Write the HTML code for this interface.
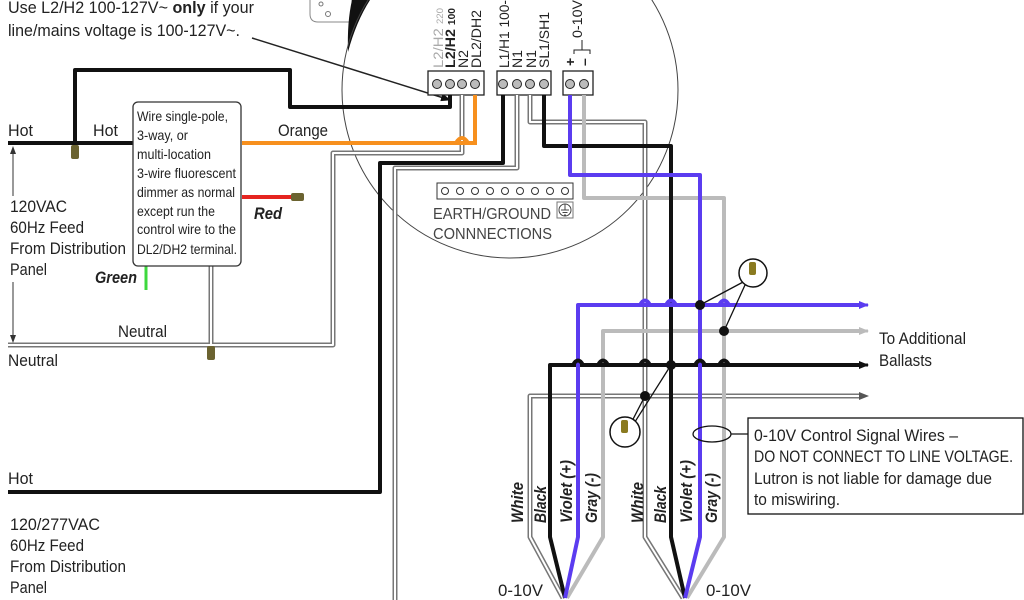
<!DOCTYPE html>
<html><head><meta charset="utf-8"><style>
html,body{margin:0;padding:0;background:#fff;width:1024px;height:600px;overflow:hidden}
svg{display:block}
text{font-family:"Liberation Sans Narrow","Liberation Sans",sans-serif;fill:#222}
.t{font-size:17px}
.s{font-size:14px}
.bi{font-style:italic;font-weight:bold}
</style></head><body>
<svg width="1024" height="600" viewBox="0 0 1024 600" xmlns="http://www.w3.org/2000/svg">
<defs>
<marker id="ah" markerUnits="userSpaceOnUse" markerWidth="10" markerHeight="8" refX="9" refY="4" orient="auto"><path d="M0,0 L10,4 L0,8 z" fill="#555"/></marker>
<marker id="ahv" markerUnits="userSpaceOnUse" markerWidth="10" markerHeight="8" refX="9" refY="4" orient="auto"><path d="M0,0 L10,4 L0,8 z" fill="#5b3cf0"/></marker>
<marker id="ahk" markerUnits="userSpaceOnUse" markerWidth="10" markerHeight="8" refX="9" refY="4" orient="auto"><path d="M0,0 L10,4 L0,8 z" fill="#111"/></marker>
<marker id="ahg" markerUnits="userSpaceOnUse" markerWidth="10" markerHeight="8" refX="9" refY="4" orient="auto"><path d="M0,0 L10,4 L0,8 z" fill="#bbb"/></marker>
</defs>

<text x="8" y="13" class="t" textLength="246" lengthAdjust="spacingAndGlyphs">Use L2/H2 100-127V~ <tspan font-weight="bold">only</tspan> if your</text>
<text x="8" y="36" class="t" textLength="232" lengthAdjust="spacingAndGlyphs">line/mains voltage is 100-127V~.</text>
<line x1="252" y1="38" x2="450" y2="100" stroke="#222" stroke-width="1.5" marker-end="url(#ahk)"/>

<path d="M310,0 L310,14 Q310,22 318,22 L352,22 L352,0" fill="none" stroke="#888" stroke-width="1"/>
<circle cx="321" cy="4" r="2" fill="none" stroke="#777"/>
<circle cx="328" cy="14" r="2.5" fill="none" stroke="#777"/>
<path d="M352,0 L370,0 Q356,22 348,52 Q347,22 352,0 z" fill="#111"/>

<circle cx="510" cy="90" r="168" fill="none" stroke="#444" stroke-width="1"/>

<g font-size="14">
<text transform="translate(443,68) rotate(-90)" style="fill:#aaa" textLength="60" lengthAdjust="spacingAndGlyphs">L2/H2 <tspan font-size="9">220</tspan></text>
<text transform="translate(455,68) rotate(-90)" font-weight="bold" textLength="60" lengthAdjust="spacingAndGlyphs">L2/H2 <tspan font-size="10">100</tspan></text>
<text transform="translate(468,68) rotate(-90)" textLength="18" lengthAdjust="spacingAndGlyphs">N2</text>
<text transform="translate(481,68) rotate(-90)" textLength="58" lengthAdjust="spacingAndGlyphs">DL2/DH2</text>
<text transform="translate(509,68) rotate(-90)" textLength="68" lengthAdjust="spacingAndGlyphs">L1/H1 100-</text>
<text transform="translate(522,68) rotate(-90)" textLength="18" lengthAdjust="spacingAndGlyphs">N1</text>
<text transform="translate(536,68) rotate(-90)" textLength="18" lengthAdjust="spacingAndGlyphs">N1</text>
<text transform="translate(549,68) rotate(-90)" textLength="56" lengthAdjust="spacingAndGlyphs">SL1/SH1</text>
<text transform="translate(575,66) rotate(-90)" font-weight="bold">+</text>
<text transform="translate(589,66) rotate(-90)" font-weight="bold">–</text>
<text transform="translate(582,38) rotate(-90)" textLength="38" lengthAdjust="spacingAndGlyphs">0-10V</text>
</g>
<path d="M574,54 L574,50 L590,50 L590,54" fill="none" stroke="#222"/>
<line x1="582" y1="50" x2="582" y2="40" stroke="#222"/>

<g stroke="#222" stroke-width="1.3" fill="#fff">
<rect x="428" y="71" width="56" height="24"/>
<rect x="497" y="71" width="54" height="24"/>
<rect x="563" y="71" width="30" height="24"/>
</g>
<g fill="#bbb" stroke="#222" stroke-width="1">
<circle cx="437" cy="84" r="4.5"/><circle cx="450" cy="84" r="4.5"/><circle cx="462" cy="84" r="4.5"/><circle cx="475" cy="84" r="4.5"/>
<circle cx="503" cy="84" r="4.5"/><circle cx="517" cy="84" r="4.5"/><circle cx="530" cy="84" r="4.5"/><circle cx="544" cy="84" r="4.5"/>
<circle cx="570" cy="84" r="4.5"/><circle cx="584" cy="84" r="4.5"/>
</g>

<rect x="437" y="183" width="136" height="16" fill="#fff" stroke="#333"/>
<g fill="none" stroke="#333"><circle cx="445" cy="191" r="3.5"/><circle cx="460" cy="191" r="3.5"/><circle cx="475" cy="191" r="3.5"/><circle cx="490" cy="191" r="3.5"/><circle cx="505" cy="191" r="3.5"/><circle cx="520" cy="191" r="3.5"/><circle cx="535" cy="191" r="3.5"/><circle cx="550" cy="191" r="3.5"/><circle cx="565" cy="191" r="3.5"/></g>
<text x="433" y="219" font-size="16" style="fill:#444" textLength="118" lengthAdjust="spacingAndGlyphs">EARTH/GROUND</text>
<text x="433" y="239" font-size="16" style="fill:#444" textLength="119" lengthAdjust="spacingAndGlyphs">CONNNECTIONS</text>
<rect x="557" y="202" width="16" height="16" fill="#fff" stroke="#777"/>
<circle cx="565" cy="210" r="6" fill="none" stroke="#444"/>
<path d="M565,204 V210 M561,210 H569 M562.5,212.5 H567.5 M564,215 H566" stroke="#444"/>

<g fill="none" stroke-linejoin="round">
<g stroke="#777" stroke-width="5">
<path d="M8,345 H333 V153 H462 V95"/>
<path d="M517,95 V168 H395 V600"/>
<path d="M530,95 V122 H645 V396"/>
<path d="M211,266 V345"/>
<path d="M862,396 H530 V537 L563,598"/>
<path d="M645,396 V537 L683,598"/>
</g>
<g stroke="#fff" stroke-width="2">
<path d="M8,345 H333 V153 H462 V95"/>
<path d="M517,95 V168 H395 V600"/>
<path d="M530,95 V122 H645 V396"/>
<path d="M211,266 V345"/>
<path d="M862,396 H530 V537 L563,598"/>
<path d="M645,396 V537 L683,598"/>
</g>
</g>
<line x1="860" y1="396" x2="868" y2="396" stroke="#777" stroke-width="1" marker-end="url(#ah)"/>

<g fill="none" stroke="#bbb" stroke-width="4" stroke-linejoin="round">
<path d="M584,95 V198 H724 V537 L687,598"/>
<path d="M860,331 H603 V537 L567,598"/>
</g>
<line x1="855" y1="331" x2="868" y2="331" stroke="#bbb" stroke-width="3" marker-end="url(#ahg)"/>

<path d="M242,143 H475 V95" fill="none" stroke="#f7901e" stroke-width="4"/>
<line x1="242" y1="197" x2="292" y2="197" stroke="#e52420" stroke-width="4"/>
<rect x="291" y="193" width="13" height="8" rx="2" fill="#6b6330"/>
<line x1="146" y1="266" x2="146" y2="290" stroke="#3ed83e" stroke-width="3"/>

<g fill="none" stroke="#111" stroke-width="4" stroke-linejoin="round">
<path d="M8,143 H133"/>
<path d="M75,146 V70 H290 V107 H450 V95"/>
<path d="M503,95 V163 H380 V492 H8"/>
<path d="M544,95 V146 H671 V537 L685,598"/>
<path d="M860,365 H550 V537 L565,598"/>
</g>
<line x1="855" y1="365" x2="868" y2="365" stroke="#111" stroke-width="3" marker-end="url(#ahk)"/>

<g fill="none" stroke="#5b3cf0" stroke-width="4" stroke-linejoin="round">
<path d="M570,95 V175 H700 V537 L685,598"/>
<path d="M860,305 H578 V537 L565,598"/>
</g>
<line x1="855" y1="305" x2="868" y2="305" stroke="#5b3cf0" stroke-width="3" marker-end="url(#ahv)"/>

<g fill="none" stroke-width="4">
<path d="M640,305 q5,-9 10,0 M666,305 q5,-9 10,0 M719,305 q5,-9 10,0" stroke="#5b3cf0"/>
<path d="M573,365 q5,-9 10,0 M598,365 q5,-9 10,0 M640,365 q5,-9 10,0 M695,365 q5,-9 10,0 M719,365 q5,-9 10,0" stroke="#111"/>
<path d="M456,143 q6,-10 12,0" stroke="#f7901e"/>
</g>

<rect x="71" y="145" width="8" height="14" rx="2" fill="#6b6330"/>
<rect x="207" y="346" width="8" height="14" rx="2" fill="#6b6330"/>

<g fill="#111">
<circle cx="700" cy="305" r="5"/><circle cx="724" cy="331" r="5"/>
<circle cx="671" cy="365" r="5"/><circle cx="645" cy="396" r="5"/>
</g>
<g stroke="#111" stroke-width="1.3">
<line x1="700" y1="305" x2="745" y2="281"/><line x1="724" y1="331" x2="745" y2="285"/>
<line x1="671" y1="365" x2="633" y2="425"/><line x1="645" y1="396" x2="630" y2="425"/>
</g>
<circle cx="753" cy="273" r="14" fill="#fff" stroke="#111" stroke-width="1.5"/>
<rect x="749" y="262" width="7" height="13" rx="2" fill="#8a7a20"/>
<circle cx="625" cy="432" r="15" fill="#fff" stroke="#111" stroke-width="1.5"/>
<rect x="621" y="420" width="7" height="13" rx="2" fill="#8a7a20"/>

<ellipse cx="712" cy="434" rx="19" ry="8" fill="none" stroke="#111" stroke-width="1.3"/>
<line x1="731" y1="434" x2="748" y2="434" stroke="#111" stroke-width="1.3"/>
<rect x="748" y="418" width="275" height="96" fill="#fff" stroke="#111" stroke-width="1.3"/>
<text x="754" y="441" class="t" textLength="204" lengthAdjust="spacingAndGlyphs">0-10V Control Signal Wires –</text>
<text x="754" y="462" class="t" textLength="259" lengthAdjust="spacingAndGlyphs">DO NOT CONNECT TO LINE VOLTAGE.</text>
<text x="754" y="484" class="t" textLength="238" lengthAdjust="spacingAndGlyphs">Lutron is not liable for damage due</text>
<text x="754" y="505" class="t" textLength="86" lengthAdjust="spacingAndGlyphs">to miswiring.</text>

<rect x="133" y="102" width="108" height="164" rx="5" fill="#fff" stroke="#333" stroke-width="1.3"/>
<g font-size="14">
<text x="137" y="121" textLength="91" lengthAdjust="spacingAndGlyphs">Wire single-pole,</text>
<text x="137" y="140" textLength="51" lengthAdjust="spacingAndGlyphs">3-way, or</text>
<text x="137" y="159" textLength="74" lengthAdjust="spacingAndGlyphs">multi-location</text>
<text x="137" y="178" textLength="99" lengthAdjust="spacingAndGlyphs">3-wire fluorescent</text>
<text x="137" y="197" textLength="98" lengthAdjust="spacingAndGlyphs">dimmer as normal</text>
<text x="137" y="216" textLength="78" lengthAdjust="spacingAndGlyphs">except run the</text>
<text x="137" y="234" textLength="99" lengthAdjust="spacingAndGlyphs">control wire to the</text>
<text x="137" y="254" textLength="100" lengthAdjust="spacingAndGlyphs">DL2/DH2 terminal.</text>
</g>

<text x="8" y="136" class="t" textLength="25" lengthAdjust="spacingAndGlyphs">Hot</text>
<text x="93" y="136" class="t" textLength="25" lengthAdjust="spacingAndGlyphs">Hot</text>
<text x="278" y="136" class="t" textLength="50" lengthAdjust="spacingAndGlyphs">Orange</text>
<text x="254" y="219" class="t bi" textLength="28" lengthAdjust="spacingAndGlyphs">Red</text>
<text x="95" y="283" class="t bi" textLength="42" lengthAdjust="spacingAndGlyphs">Green</text>
<text x="10" y="212" class="t" textLength="57" lengthAdjust="spacingAndGlyphs">120VAC</text>
<text x="10" y="233" class="t" textLength="74" lengthAdjust="spacingAndGlyphs">60Hz Feed</text>
<text x="10" y="254" class="t" textLength="116" lengthAdjust="spacingAndGlyphs">From Distribution</text>
<text x="10" y="275" class="t" textLength="37" lengthAdjust="spacingAndGlyphs">Panel</text>
<line x1="13" y1="152" x2="13" y2="196" stroke="#333"/>
<line x1="13" y1="282" x2="13" y2="338" stroke="#333"/>
<path d="M13,146 l-3,8 h6 z M13,343 l-3,-8 h6 z" fill="#333"/>
<text x="118" y="337" class="t" textLength="49" lengthAdjust="spacingAndGlyphs">Neutral</text>
<text x="8" y="366" class="t" textLength="50" lengthAdjust="spacingAndGlyphs">Neutral</text>
<text x="8" y="484" class="t" textLength="25" lengthAdjust="spacingAndGlyphs">Hot</text>
<text x="10" y="530" class="t" textLength="90" lengthAdjust="spacingAndGlyphs">120/277VAC</text>
<text x="10" y="551" class="t" textLength="74" lengthAdjust="spacingAndGlyphs">60Hz Feed</text>
<text x="10" y="572" class="t" textLength="116" lengthAdjust="spacingAndGlyphs">From Distribution</text>
<text x="10" y="593" class="t" textLength="37" lengthAdjust="spacingAndGlyphs">Panel</text>
<text x="879" y="344" class="t" textLength="87" lengthAdjust="spacingAndGlyphs">To Additional</text>
<text x="879" y="366" class="t" textLength="53" lengthAdjust="spacingAndGlyphs">Ballasts</text>
<text x="498" y="596" class="t" textLength="45" lengthAdjust="spacingAndGlyphs">0-10V</text>
<text x="706" y="596" class="t" textLength="45" lengthAdjust="spacingAndGlyphs">0-10V</text>

<g class="t bi" font-size="16">
<text transform="translate(523,523) rotate(-90)" textLength="41" lengthAdjust="spacingAndGlyphs">White</text>
<text transform="translate(546,523) rotate(-90)" textLength="37" lengthAdjust="spacingAndGlyphs">Black</text>
<text transform="translate(572,523) rotate(-90)" textLength="63" lengthAdjust="spacingAndGlyphs">Violet (+)</text>
<text transform="translate(597,523) rotate(-90)" textLength="50" lengthAdjust="spacingAndGlyphs">Gray (-)</text>
<text transform="translate(643,523) rotate(-90)" textLength="41" lengthAdjust="spacingAndGlyphs">White</text>
<text transform="translate(666,523) rotate(-90)" textLength="37" lengthAdjust="spacingAndGlyphs">Black</text>
<text transform="translate(692,523) rotate(-90)" textLength="63" lengthAdjust="spacingAndGlyphs">Violet (+)</text>
<text transform="translate(717,523) rotate(-90)" textLength="50" lengthAdjust="spacingAndGlyphs">Gray (-)</text>
</g>
</svg>
</body></html>
